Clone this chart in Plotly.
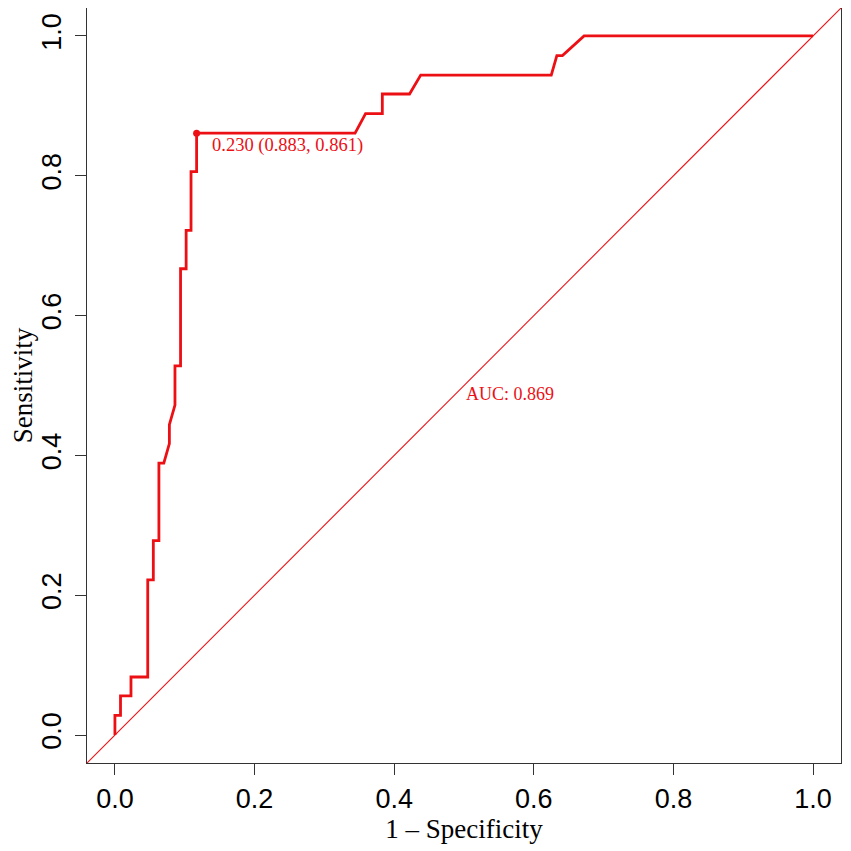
import plotly.graph_objects as go

# ROC curve (1 - specificity, sensitivity)
fpr = [0.0, 0.0, 0.008, 0.008, 0.023, 0.023, 0.047, 0.047, 0.055, 0.055,
       0.063, 0.063, 0.070, 0.078, 0.078, 0.086, 0.086, 0.094, 0.094, 0.102,
       0.102, 0.109, 0.109, 0.117, 0.117, 0.344, 0.359, 0.383, 0.383, 0.422,
       0.438, 0.625, 0.633, 0.641, 0.672, 1.0]
tpr = [0.0, 0.028, 0.028, 0.056, 0.056, 0.083, 0.083, 0.222, 0.222, 0.278,
       0.278, 0.389, 0.389, 0.417, 0.444, 0.472, 0.528, 0.528, 0.667, 0.667,
       0.722, 0.722, 0.806, 0.806, 0.861, 0.861, 0.889, 0.889, 0.917, 0.917,
       0.944, 0.944, 0.972, 0.972, 1.0, 1.0]

# best threshold
best_fpr = [0.117]
best_tpr = [0.861]
best_label = "0.230 (0.883, 0.861)"
auc_label = "AUC: 0.869"

tick_vals = [0.0, 0.2, 0.4, 0.6, 0.8, 1.0]
tick_text = ["0.0", "0.2", "0.4", "0.6", "0.8", "1.0"]
axis_range = [-0.04, 1.04]

RED = "#ec1015"
SERIF = "Liberation Serif, Times New Roman, serif"
SANS = "Liberation Sans, Arial, Helvetica, sans-serif"

fig = go.Figure()

# chance line across the whole box
fig.add_trace(go.Scatter(
    x=axis_range, y=axis_range, mode="lines",
    line=dict(color=RED, width=1.1), hoverinfo="skip", showlegend=False,
))

fig.add_trace(go.Scatter(
    x=fpr, y=tpr, mode="lines",
    line=dict(color=RED, width=2.8), showlegend=False,
))

fig.add_trace(go.Scatter(
    x=best_fpr, y=best_tpr, mode="markers",
    marker=dict(color=RED, size=7), showlegend=False,
))

fig.add_annotation(
    x=best_fpr[0], y=best_tpr[0], text=best_label, showarrow=False,
    xanchor="left", yanchor="middle", xshift=13, yshift=-12,
    font=dict(family=SERIF, size=18.5, color=RED),
)
fig.add_annotation(
    x=0.5, y=0.5, text=auc_label, showarrow=False,
    xanchor="left", yanchor="top", yshift=4,
    font=dict(family=SERIF, size=18, color=RED),
)

axis_common = dict(
    range=axis_range, tickvals=tick_vals, ticktext=tick_text,
    ticks="outside", ticklen=11, tickwidth=1.2, tickcolor="#333",
    showgrid=False, zeroline=False, automargin=False,
    showline=True, linecolor="#333", linewidth=1.3, mirror=True,
    tickfont=dict(family=SANS, size=27, color="black"),
)

fig.update_xaxes(
    **axis_common,
    title=dict(text="1 – Specificity", font=dict(family=SERIF, size=27, color="black"), standoff=2),
)
fig.update_yaxes(
    **axis_common, tickangle=-90, ticklabelstandoff=3,
    title=dict(text="Sensitivity", font=dict(family=SERIF, size=27, color="black"), standoff=6),
)

# the page body adds an 8px offset, margins account for it
fig.update_layout(
    width=851, height=851,
    margin=dict(l=79, r=18, t=0, b=96),
    plot_bgcolor="white", paper_bgcolor="white",
)

fig.write_html("out.html")
